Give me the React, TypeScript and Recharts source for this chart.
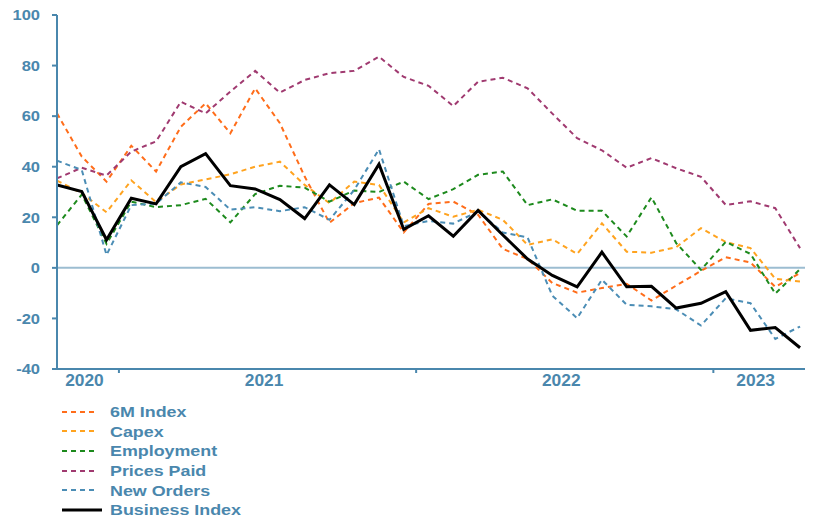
import React from "react";
import {
  LineChart,
  Line,
  XAxis,
  YAxis,
  ReferenceLine,
} from "recharts";

// Monthly survey readings, Oct 2020 - Apr 2023
const months = [
  "Oct 2020", "Nov 2020", "Dec 2020",
  "Jan 2021", "Feb 2021", "Mar 2021", "Apr 2021", "May 2021", "Jun 2021",
  "Jul 2021", "Aug 2021", "Sep 2021", "Oct 2021", "Nov 2021", "Dec 2021",
  "Jan 2022", "Feb 2022", "Mar 2022", "Apr 2022", "May 2022", "Jun 2022",
  "Jul 2022", "Aug 2022", "Sep 2022", "Oct 2022", "Nov 2022", "Dec 2022",
  "Jan 2023", "Feb 2023", "Mar 2023", "Apr 2023",
];

const sixMIndex = [
  61.1, 44, 34.1, 48.3, 38.1, 55.8, 65.1, 53.2, 71, 57.2, 36.1, 17.8, 25.6,
  27.8, 14, 25.3, 26.2, 21, 7.5, 3.5, -6, -9.8, -8, -6.3, -12.9, -7, -1.2,
  4.2, 2.1, -7.5, -2.1,
];
const capex = [
  34.5, 29.5, 22, 34.6, 26, 33, 35, 37, 40, 42, 32.8, 25.6, 34.1, 32.8, 18,
  23.6, 20.2, 23, 19, 9.1, 11.3, 5.5, 17.6, 6.4, 6, 8.2, 15.7, 10.2, 7.8,
  -4.3, -5.4,
];
const employment = [
  16.8, 29, 9.5, 26.2, 24, 24.8, 27.3, 18, 29.2, 32.5, 31.7, 26.2, 30.6, 30,
  34.1, 27.2, 31.1, 36.8, 38.1, 24.8, 27.1, 22.6, 22.6, 12.4, 27.9, 9.8,
  -0.8, 10.3, 5.5, -10.2, -0.5,
];
const pricesPaid = [
  35.4, 39.6, 36.5, 46, 50, 65.7, 61.1, 69.7, 77.9, 69.3, 74.3, 77, 77.9,
  83.5, 75.5, 72, 64, 73.6, 75.2, 71, 61, 51.3, 46.5, 39.6, 43.4, 39.4, 36,
  24.9, 26.3, 23.6, 7.8,
];
const newOrders = [
  42.4, 38.7, 5.1, 24.8, 25.4, 33.8, 32, 23, 24, 22.4, 24, 19, 30.8, 46.9,
  16.5, 18.5, 17.5, 22.3, 14, 12, -11, -19.9, -4.7, -14.6, -15.2, -16.4,
  -22.8, -12, -14, -28.1, -23.2,
];
const businessIndex = [
  32.8, 30.2, 11.1, 27.5, 25.3, 40, 45.2, 32.5, 31.2, 27, 19.5, 32.8, 25, 41,
  15.2, 20.6, 12.5, 22.7, 13, 3.5, -3, -7.5, 6.2, -7.5, -7.3, -15.9, -14,
  -9.4, -24.7, -23.6, -31.6,
];

const yTicks = [-40, -20, 0, 20, 40, 60, 80, 100];

const AXIS_BLUE = "#4a87ad";
const FONT = "'Liberation Sans', Arial, sans-serif";
// the source font is a touch wider than Arial
const AXIS_STRETCH = 1.1;
const LEGEND_STRETCH = 1.16;

const SERIES = [
  { key: "sixM", name: "6M Index", color: "#ff6d1a", dash: "5 4", width: 2 },
  { key: "capex", name: "Capex", color: "#ffa31f", dash: "5 4", width: 2 },
  { key: "employment", name: "Employment", color: "#1d8a1d", dash: "5 4", width: 2 },
  { key: "prices", name: "Prices Paid", color: "#a03a70", dash: "5 4", width: 2 },
  { key: "orders", name: "New Orders", color: "#4b8db5", dash: "5 4", width: 2 },
  { key: "business", name: "Business Index", color: "#000000", dash: undefined, width: 3 },
];

const data = months.map((m, i) => ({
  idx: i,
  month: m,
  sixM: sixMIndex[i],
  capex: capex[i],
  employment: employment[i],
  prices: pricesPaid[i],
  orders: newOrders[i],
  business: businessIndex[i],
}));

const X_MAX = 30.2;

// year boundaries sit half way between Dec and Jan
const years = Array.from(new Set(months.map((m) => m.split(" ")[1])));
const boundaries: number[] = [];
months.forEach((m, i) => {
  if (i > 0 && m.split(" ")[1] !== months[i - 1].split(" ")[1]) {
    boundaries.push(i - 0.5);
  }
});
const edges = [0, ...boundaries, X_MAX];
const yearCenters = years.map((_, i) => (edges[i] + edges[i + 1]) / 2);
const xTicks = [...boundaries, ...yearCenters].sort((a, b) => a - b);

const YearTick = (props: any) => {
  const { x, y, payload } = props;
  const b = boundaries.indexOf(payload.value);
  if (b >= 0) {
    return (
      <line x1={x} x2={x} y1={y} y2={y + 4} stroke={AXIS_BLUE} strokeWidth={2} />
    );
  }
  const yi = yearCenters.indexOf(payload.value);
  return (
    <g transform={`translate(${x - 3.5},${y + 17}) scale(${AXIS_STRETCH},1)`}>
      <text
        x={0}
        y={0}
        textAnchor="middle"
        fill={AXIS_BLUE}
        fontSize={15.8}
        fontWeight="bold"
        fontFamily={FONT}
      >
        {years[yi]}
      </text>
    </g>
  );
};

const ValueTick = (props: any) => {
  const { x, y, payload } = props;
  return (
    <g transform={`translate(${x},${y}) scale(${AXIS_STRETCH},1)`}>
      <text
        x={0}
        y={0}
        dy="0.355em"
        textAnchor="end"
        fill={AXIS_BLUE}
        fontSize={15}
        fontWeight="bold"
        fontFamily={FONT}
      >
        {payload.value}
      </text>
    </g>
  );
};

const App: React.FC = () => {
  return (
    <div style={{ width: 800, fontFamily: FONT }}>
      <LineChart
        width={800}
        height={391}
        data={data}
        margin={{ top: 7, right: 3, bottom: 0, left: 0 }}
      >
        <XAxis
          dataKey="idx"
          type="number"
          domain={[0, X_MAX]}
          ticks={xTicks}
          interval={0}
          tick={<YearTick />}
          tickLine={false}
          tickSize={0}
          tickMargin={0}
          height={30}
          axisLine={{ stroke: AXIS_BLUE, strokeWidth: 2 }}
          allowDataOverflow
        />
        <YAxis
          type="number"
          domain={[-40, 100]}
          ticks={yTicks}
          interval={0}
          width={49}
          tickSize={5}
          tickMargin={12}
          axisLine={{ stroke: AXIS_BLUE, strokeWidth: 2 }}
          tickLine={{ stroke: AXIS_BLUE, strokeWidth: 2 }}
          tick={<ValueTick />}
        />
        <ReferenceLine y={0} stroke="#9cbdd1" strokeWidth={2} />
        {SERIES.map((s) => (
          <Line
            key={s.key}
            dataKey={s.key}
            name={s.name}
            stroke={s.color}
            strokeWidth={s.width}
            strokeDasharray={s.dash}
            dot={false}
            activeDot={false}
            type="linear"
            isAnimationActive={false}
          />
        ))}
      </LineChart>
      <div style={{ paddingTop: 3, paddingLeft: 54 }}>
        {SERIES.map((s) => (
          <div
            key={s.key}
            style={{ height: 19.6, display: "flex", alignItems: "center" }}
          >
            <svg width={40} height={6} style={{ display: "block" }}>
              <line
                x1={0}
                x2={s.dash ? 36 : 40}
                y1={3}
                y2={3}
                stroke={s.color}
                strokeWidth={s.width}
                strokeDasharray={s.dash}
              />
            </svg>
            <span
              style={{
                marginLeft: 8,
                color: AXIS_BLUE,
                fontSize: 15.4,
                fontWeight: "bold",
                lineHeight: "19px",
                display: "inline-block",
                whiteSpace: "nowrap",
                transform: `scaleX(${LEGEND_STRETCH})`,
                transformOrigin: "left center",
              }}
            >
              {s.name}
            </span>
          </div>
        ))}
      </div>
    </div>
  );
};

export default App;
